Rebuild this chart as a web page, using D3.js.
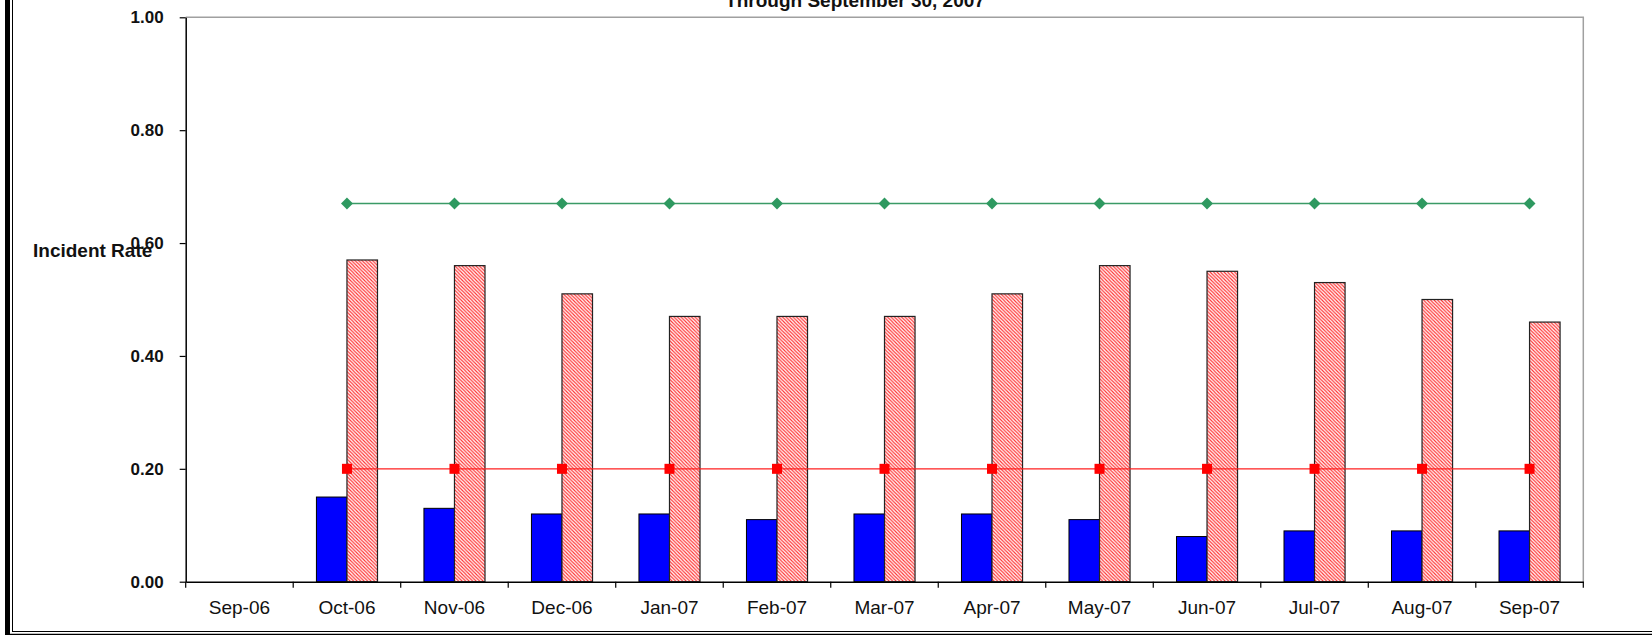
<!DOCTYPE html>
<html>
<head>
<meta charset="utf-8">
<script src="https://cdn.jsdelivr.net/npm/d3@7"></script>
<style>
  body { margin: 0; background: #fff; }
  text { font-family: Arial, "Liberation Sans", sans-serif; fill: #111; }
</style>
</head>
<body>
<div id="chart"></div>
<script>
// month labels along the bottom (Sep-06 has no data)
const months = ["Sep-06", "Oct-06", "Nov-06", "Dec-06", "Jan-07", "Feb-07", "Mar-07",
                "Apr-07", "May-07", "Jun-07", "Jul-07", "Aug-07", "Sep-07"];

// months that carry values
const dataMonths = months.slice(1);

// blue solid bars
const blueValues = [0.15, 0.13, 0.12, 0.12, 0.11, 0.12, 0.12, 0.11, 0.08, 0.09, 0.09, 0.09];
// red hatched bars
const redValues = [0.57, 0.56, 0.51, 0.47, 0.47, 0.47, 0.51, 0.56, 0.55, 0.53, 0.50, 0.46];
// green line (diamonds)
const greenLine = [0.67, 0.67, 0.67, 0.67, 0.67, 0.67, 0.67, 0.67, 0.67, 0.67, 0.67, 0.67];
// red line (squares)
const redLine = [0.20, 0.20, 0.20, 0.20, 0.20, 0.20, 0.20, 0.20, 0.20, 0.20, 0.20, 0.20];

const yTicks = [0, 0.2, 0.4, 0.6, 0.8, 1.0];

const W = 1652, H = 635;
const plot = { left: 185.7, right: 1583.3, top: 17.3, bottom: 581.7 };

const svg = d3.select("#chart").append("svg")
  .attr("width", W)
  .attr("height", H);

// hatch pattern for the red bars
const hs = 3.5;
const defs = svg.append("defs");
const pat = defs.append("pattern")
  .attr("id", "hatch")
  .attr("patternUnits", "userSpaceOnUse")
  .attr("width", hs)
  .attr("height", hs);
pat.append("rect").attr("width", hs).attr("height", hs).attr("fill", "#fff");
pat.append("path")
  .attr("d", `M-1,-1 L${hs + 1},${hs + 1} M-1,${hs - 1} L1,${hs + 1} M${hs - 1},-1 L${hs + 1},1`)
  .attr("stroke", "#ff3030")
  .attr("stroke-width", 1.15);

// outer frame (left + bottom visible)
svg.append("rect").attr("x", 5).attr("y", 0).attr("width", 5).attr("height", H).attr("fill", "#000");
svg.append("line").attr("x1", 12.5).attr("x2", 12.5).attr("y1", 0).attr("y2", 632)
  .attr("stroke", "#000").attr("stroke-width", 1);
svg.append("line").attr("x1", 12).attr("x2", W).attr("y1", 631.5).attr("y2", 631.5)
  .attr("stroke", "#000").attr("stroke-width", 1);
svg.append("line").attr("x1", 10).attr("x2", W).attr("y1", 634.5).attr("y2", 634.5)
  .attr("stroke", "#000").attr("stroke-width", 1.5);

// scales
const x = d3.scaleBand()
  .domain(months)
  .range([plot.left, plot.right])
  .padding(0);

const y = d3.scaleLinear()
  .domain([0, 1])
  .range([plot.bottom, plot.top]);

const barW = x.bandwidth() * 0.284;
const center = m => x(m) + x.bandwidth() / 2;

// plot area border (top and right are grey)
svg.append("path")
  .attr("d", `M${plot.left},${plot.top}H${plot.right}V${plot.bottom}`)
  .attr("fill", "none")
  .attr("stroke", "#a0a0a0")
  .attr("stroke-width", 1.5);

// blue bars
svg.append("g").selectAll("rect")
  .data(blueValues)
  .enter().append("rect")
  .attr("x", (d, i) => center(dataMonths[i]) - barW)
  .attr("y", d => y(d))
  .attr("width", barW)
  .attr("height", d => y(0) - y(d))
  .attr("fill", "#0000ff")
  .attr("stroke", "#000")
  .attr("stroke-width", 1);

// red hatched bars
svg.append("g").selectAll("rect")
  .data(redValues)
  .enter().append("rect")
  .attr("x", (d, i) => center(dataMonths[i]))
  .attr("y", d => y(d))
  .attr("width", barW)
  .attr("height", d => y(0) - y(d))
  .attr("fill", "url(#hatch)")
  .attr("stroke", "#222")
  .attr("stroke-width", 1.2);

// green line with diamonds
const line = d3.line()
  .x((d, i) => center(dataMonths[i]))
  .y(d => y(d));

svg.append("path")
  .datum(greenLine)
  .attr("d", line)
  .attr("fill", "none")
  .attr("stroke", "#3a9a66")
  .attr("stroke-width", 1.6);

svg.append("g").selectAll("path")
  .data(greenLine)
  .enter().append("path")
  .attr("d", d3.symbol(d3.symbolDiamond2, 90))
  .attr("transform", (d, i) => `translate(${center(dataMonths[i])},${y(d)})`)
  .attr("fill", "#2e9960");

// red line with squares
svg.append("path")
  .datum(redLine)
  .attr("d", line)
  .attr("fill", "none")
  .attr("stroke", "#ff2020")
  .attr("stroke-width", 1.3);

svg.append("g").selectAll("rect")
  .data(redLine)
  .enter().append("rect")
  .attr("x", (d, i) => center(dataMonths[i]) - 5)
  .attr("y", d => y(d) - 5)
  .attr("width", 10)
  .attr("height", 10)
  .attr("fill", "#ff0000");

// y axis
const yAxis = svg.append("g")
  .attr("transform", `translate(${plot.left},0)`)
  .call(d3.axisLeft(y).tickValues(yTicks).tickFormat(d3.format(".2f")).tickSize(6).tickSizeOuter(0).tickPadding(16));
yAxis.select(".domain").attr("stroke", "#000").attr("stroke-width", 1.5);
yAxis.selectAll(".tick line").attr("stroke", "#000").attr("stroke-width", 1.2);
yAxis.selectAll(".tick text")
  .attr("font-size", 17)
  .attr("font-weight", "bold")
  .attr("font-family", "Arial, 'Liberation Sans', sans-serif")
  .attr("fill", "#111");

// x axis (labels centred, ticks on category boundaries)
const xAxis = svg.append("g")
  .attr("transform", `translate(0,${plot.bottom})`)
  .call(d3.axisBottom(x).tickSize(0).tickPadding(19));
xAxis.select(".domain").attr("stroke", "#000").attr("stroke-width", 1.5);
xAxis.selectAll(".tick text")
  .attr("font-size", 19)
  .attr("font-family", "Arial, 'Liberation Sans', sans-serif")
  .attr("fill", "#222");

xAxis.selectAll(".bound")
  .data(months.concat(["end"]))
  .enter().append("line")
  .attr("class", "bound")
  .attr("x1", (d, i) => i < months.length ? x(d) : plot.right)
  .attr("x2", (d, i) => i < months.length ? x(d) : plot.right)
  .attr("y1", 0)
  .attr("y2", 6)
  .attr("stroke", "#000")
  .attr("stroke-width", 1.2);

// axis title and chart title
svg.append("text")
  .attr("x", 33)
  .attr("y", 257)
  .attr("font-size", 19)
  .attr("font-weight", "bold")
  .text("Incident Rate");

svg.append("text")
  .attr("x", 855)
  .attr("y", 7)
  .attr("text-anchor", "middle")
  .attr("font-size", 19)
  .attr("font-weight", "bold")
  .text("Through September 30, 2007");
</script>
</body>
</html>
